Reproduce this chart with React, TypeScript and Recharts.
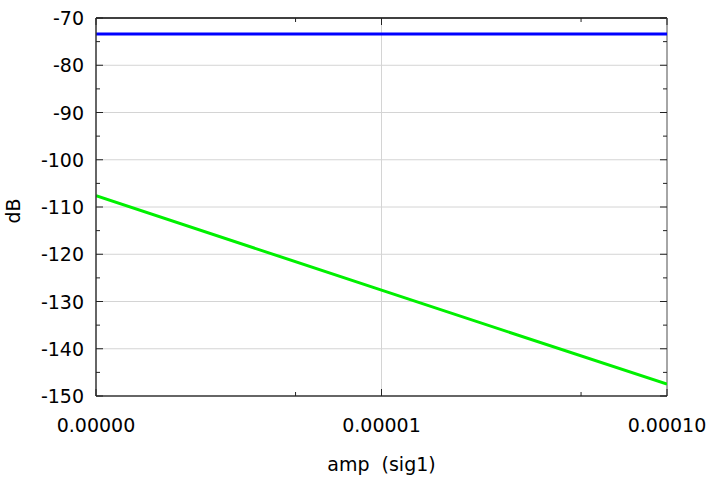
import React from 'react';
import { LineChart, Line, XAxis, YAxis, ReferenceLine } from 'recharts';

// amplitude sweep (log x) vs level in dB
const AMP = [1e-6, 1e-5, 1e-4];
const GREEN_DB = [-107.6, -127.6, -147.5];
const BLUE_DB = [-73.4, -73.4, -73.4];

const X_TICKS = [1e-6, 5e-6, 1e-5, 5e-5, 1e-4];
const X_LABELED = [1e-6, 1e-5, 1e-4];
const Y_TICKS = [-150, -145, -140, -135, -130, -125, -120, -115, -110, -105, -100, -95, -90, -85, -80, -75, -70];
const Y_GRID = [-140, -130, -120, -110, -100, -90, -80];

const data = AMP.map((a, i) => ({ amp: a, green: GREEN_DB[i], blue: BLUE_DB[i] }));

const W = 709;
const H = 479;
const M = { top: 18, right: 42, bottom: 0, left: 0 };
const Y_W = 96;
const X_H = 83;
const PLOT_TOP = M.top;
const PLOT_RIGHT = W - M.right;
const FONT = 'DejaVu Sans, sans-serif';
const FS = 19;

const XTick = (props: any) => {
  const { x, y, payload } = props;
  const v = payload.value;
  const major = X_LABELED.includes(v);
  const len = major ? 7 : 4;
  return (
    <g>
      <line x1={x} x2={x} y1={y} y2={y - len} stroke="#222" />
      <line x1={x} x2={x} y1={PLOT_TOP} y2={PLOT_TOP + len} stroke="#222" />
      {major && (
        <text x={x} y={y + 36} textAnchor="middle" fontSize={FS} fontFamily={FONT} fill="#000">
          {v.toFixed(5)}
        </text>
      )}
    </g>
  );
};

const YTick = (props: any) => {
  const { x, y, payload } = props;
  const v = payload.value;
  const major = v % 10 === 0;
  const len = major ? 7 : 4;
  return (
    <g>
      <line x1={x} x2={x + len} y1={y} y2={y} stroke="#222" />
      <line x1={PLOT_RIGHT} x2={PLOT_RIGHT - len} y1={y} y2={y} stroke="#222" />
      {major && (
        <text x={x - 12} y={y + 7} textAnchor="end" fontSize={FS} fontFamily={FONT} fill="#000">
          {v}
        </text>
      )}
    </g>
  );
};

export default function App() {
  return (
    <div style={{ position: 'absolute', left: 0, top: 0, width: W, height: H, background: '#fff' }}>
      <LineChart width={W} height={H} data={data} margin={M}>
        {Y_GRID.map((v) => (
          <ReferenceLine key={v} y={v} stroke="#d4d4d4" strokeWidth={1} />
        ))}
        <ReferenceLine x={1e-5} stroke="#d4d4d4" strokeWidth={1} />
        <ReferenceLine y={-70} stroke="#000" strokeWidth={1.5} />
        <ReferenceLine x={1e-4} stroke="#888" strokeWidth={1.5} />
        <XAxis
          dataKey="amp"
          type="number"
          scale="log"
          domain={[1e-6, 1e-4]}
          allowDataOverflow
          ticks={X_TICKS}
          interval={0}
          height={X_H}
          tickSize={0}
          tickMargin={0}
          tickLine={false}
          axisLine={{ stroke: '#333', strokeWidth: 1.5 }}
          tick={<XTick />}
          label={{
            value: 'amp\u00a0\u00a0(sig1)',
            position: 'insideBottom',
            offset: 8,
            style: { fontSize: FS, fontFamily: FONT, fill: '#000' },
          }}
        />
        <YAxis
          type="number"
          domain={[-150, -70]}
          ticks={Y_TICKS}
          interval={0}
          width={Y_W}
          tickSize={0}
          tickMargin={0}
          tickLine={false}
          axisLine={{ stroke: '#333', strokeWidth: 1.5 }}
          tick={<YTick />}
          label={{
            value: 'dB',
            angle: -90,
            position: 'insideLeft',
            offset: 13,
            dy: 4,
            style: { fontSize: FS, fontFamily: FONT, fill: '#000', textAnchor: 'middle' },
          }}
        />
        <Line type="linear" dataKey="blue" stroke="#0000ff" strokeWidth={3} dot={false} isAnimationActive={false} />
        <Line type="linear" dataKey="green" stroke="#00f000" strokeWidth={3} dot={false} isAnimationActive={false} />
      </LineChart>
    </div>
  );
}
